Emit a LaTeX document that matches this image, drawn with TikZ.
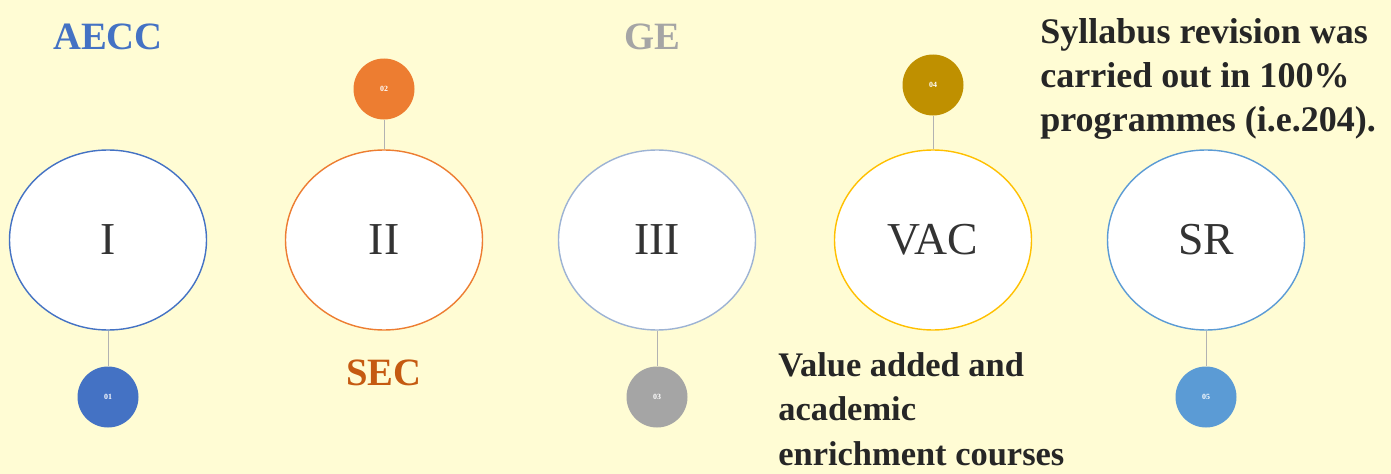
\documentclass[tikz,border=0pt]{standalone}
\usepackage{fontspec}
\setmainfont{Liberation Serif}
\usetikzlibrary{positioning,shapes.geometric}
\definecolor{bg}{HTML}{FFFCD4}
\definecolor{cI}{HTML}{4472C4}
\definecolor{cII}{HTML}{ED7D31}
\definecolor{cIII}{HTML}{A5A5A5}
\definecolor{cIV}{HTML}{BF9000}
\definecolor{cV}{HTML}{5B9BD5}
\definecolor{rimIII}{HTML}{9DB3D4}
\definecolor{rimIV}{HTML}{FFC000}
\definecolor{secc}{HTML}{C55A11}
\definecolor{aecc}{HTML}{4472C4}

\begin{document}
\begin{tikzpicture}[x=0.2mm,y=-0.2mm,
  big/.style={ellipse,fill=white,draw=#1,line width=0.8pt,minimum width=39.4mm,minimum height=36mm,inner sep=0pt,
    font=\fontsize{26}{28}\selectfont,text=black!80},
  dot/.style={circle,fill=#1,minimum size=12.2mm,inner sep=0pt,font=\fontsize{4.5}{5}\bfseries\selectfont,text=white},
  head/.style={font=\fontsize{22}{24}\bfseries\selectfont,text=#1},
  note/.style={font=\fontsize{#1}{25}\bfseries\selectfont,align=left,anchor=north west,inner sep=0pt,text=black!85},
  stem/.style={draw=gray!60,line width=0.5pt}]
  \fill[bg] (0,0) rectangle (1391,474);
  % big rings
  \node[big=cI]     (I)   at (108,240) {I};
  \node[big=cII]    (II)  at (384,240) {II};
  \node[big=rimIII] (III) at (657,240) {III};
  \node[big=rimIV]  (VAC) at (933,240) {VAC};
  \node[big=cV]     (SR)  at (1206,240) {SR};
  % numbered dots
  \node[dot=cI]   (d1) at (108,397) {01};
  \node[dot=cII]  (d2) at (384,89)  {02};
  \node[dot=cIII] (d3) at (657,397) {03};
  \node[dot=cIV]  (d4) at (933,85)  {04};
  \node[dot=cV]   (d5) at (1206,397) {05};
  \foreach \a/\b in {I/d1,II/d2,III/d3,VAC/d4,SR/d5}{\draw[stem] (\a)--(\b);}
  % labels
  \node[head=aecc]  at (108,37) {AECC};
  \node[head=secc]  at (384,373) {SEC};
  \node[head=cIII]  at (652,37) {GE};
  \node[note=20.5] at (1040,18) {Syllabus revision was\\carried out in 100\%\\programmes (i.e.204).};
  \node[note=19.6,font=\fontsize{19.6}{25.4}\bfseries\selectfont] at (778,352) {Value added and\\academic\\enrichment courses};
\end{tikzpicture}
\end{document}
